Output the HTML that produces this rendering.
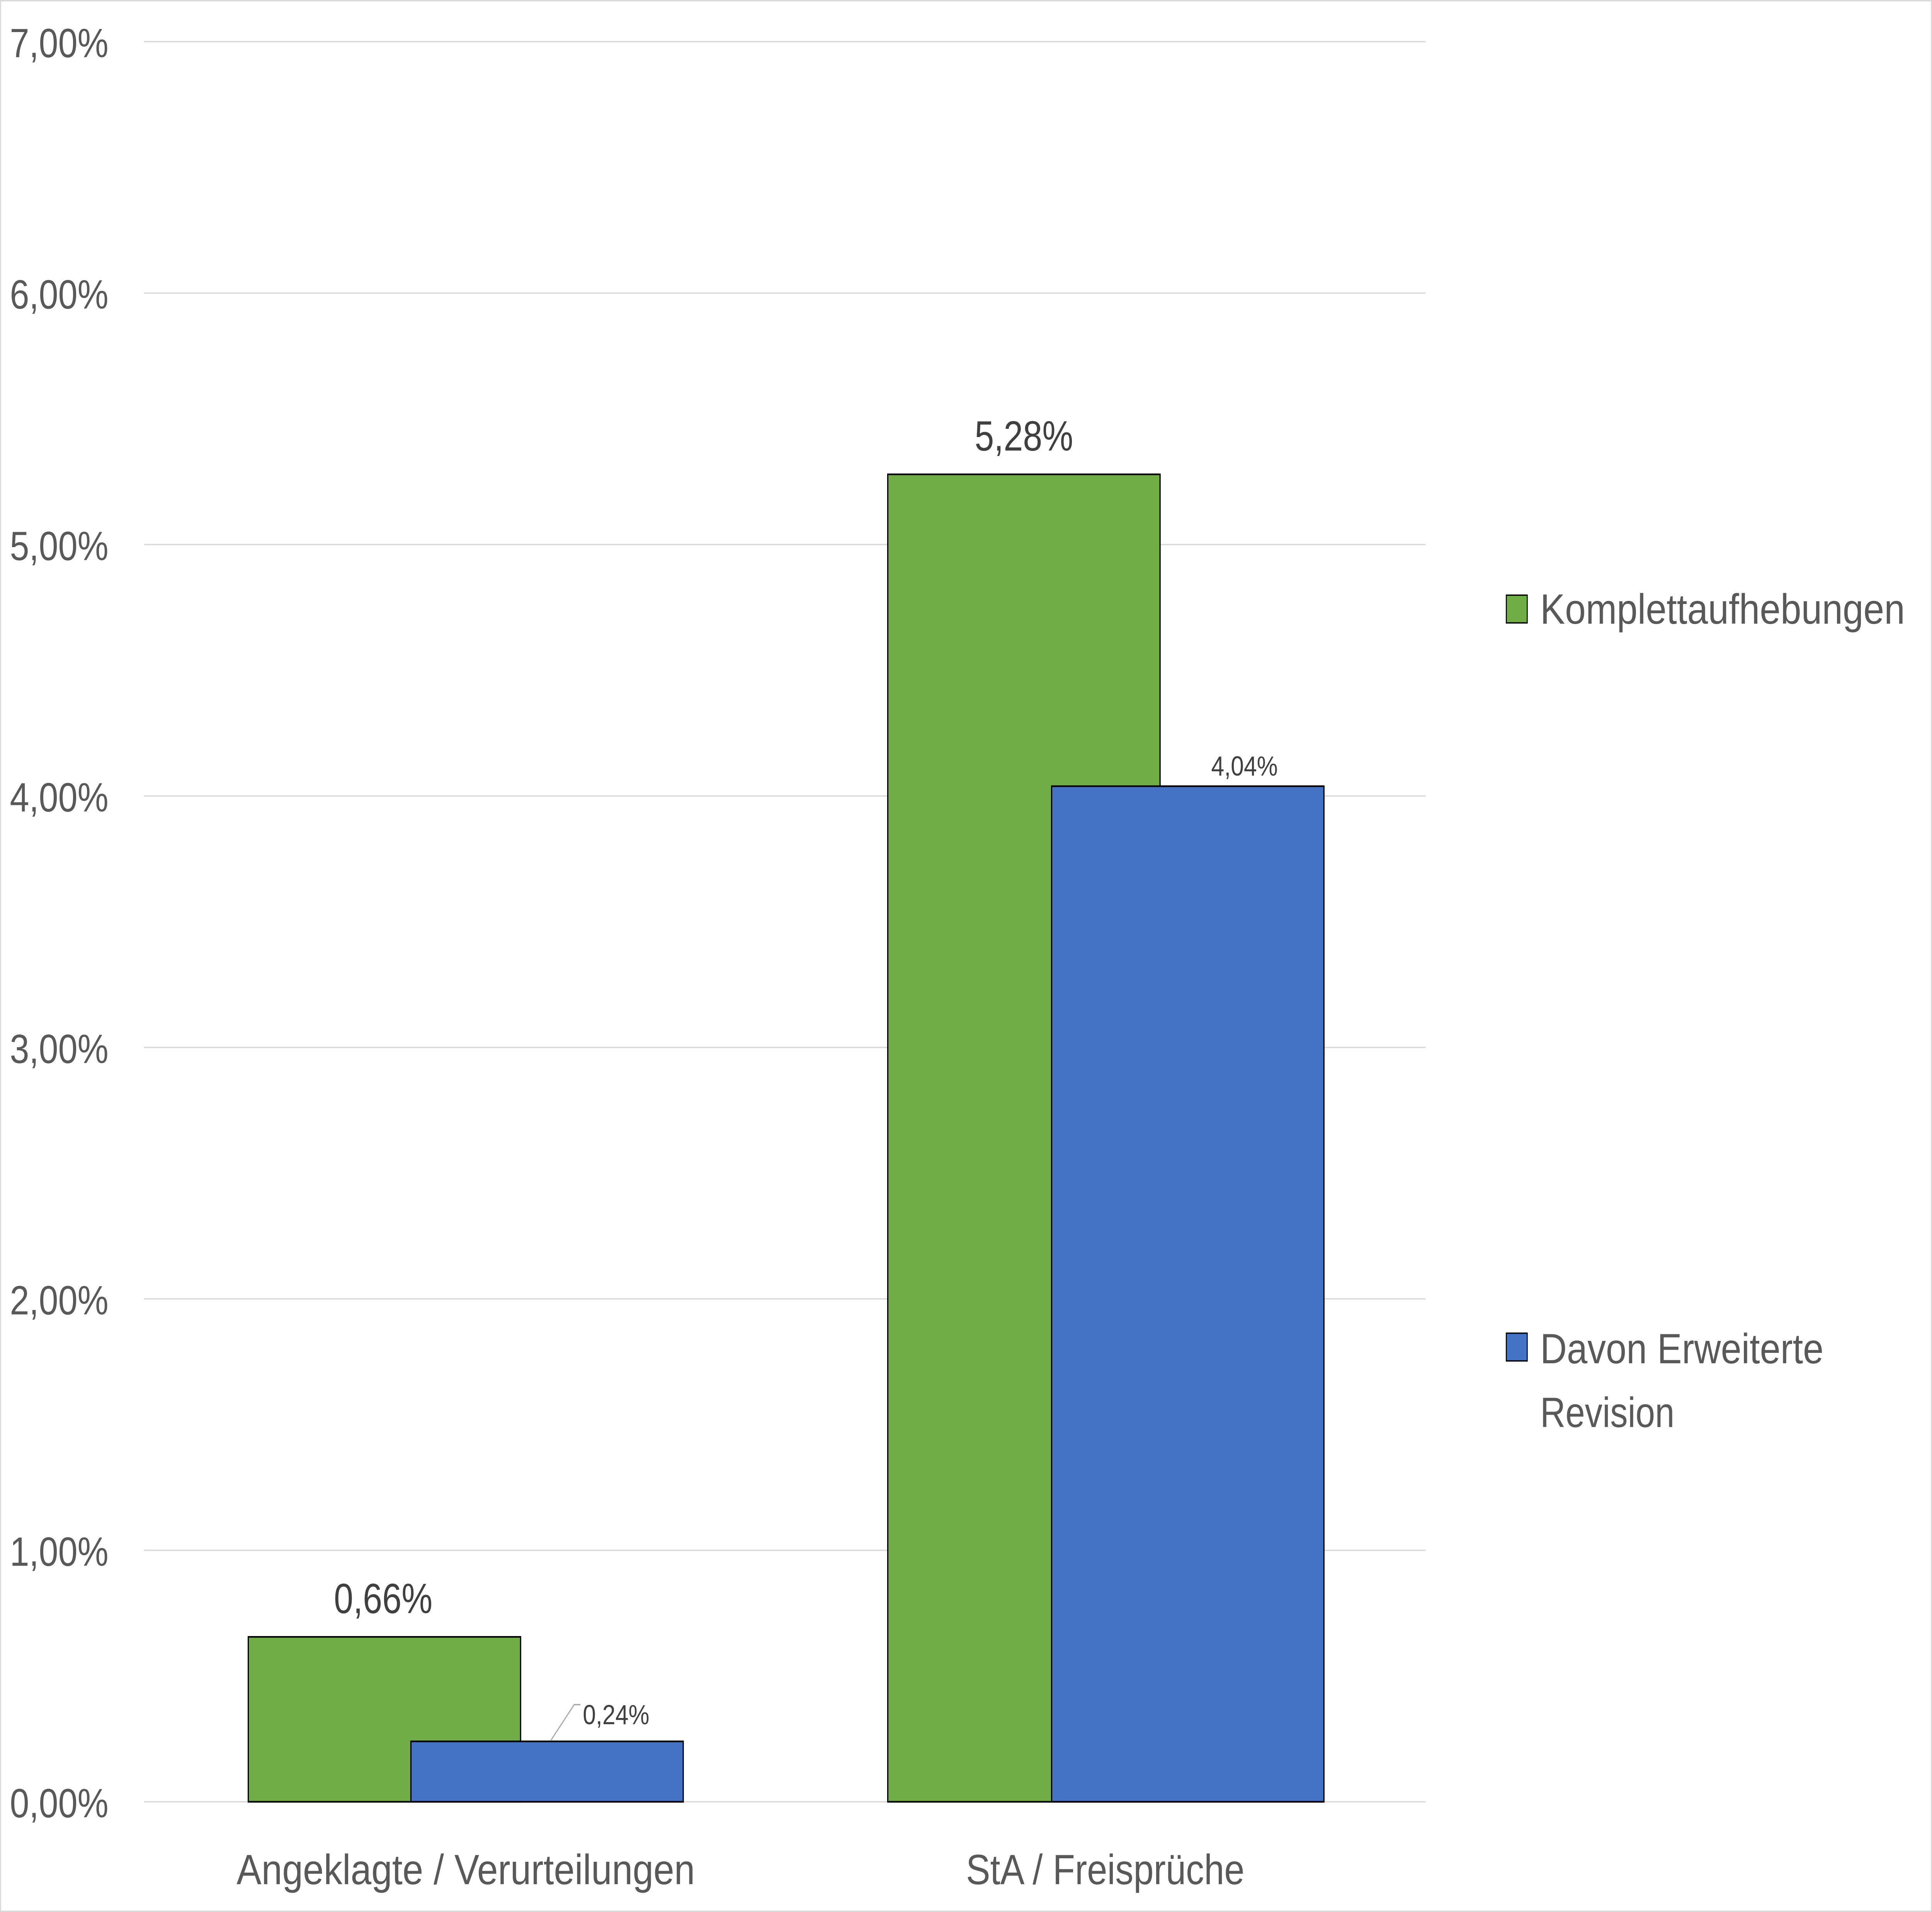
<!DOCTYPE html>
<html><head><meta charset="utf-8"><style>
html,body{margin:0;padding:0;background:#fff;overflow:hidden;width:100%;height:100%;}
svg{display:block;position:absolute;left:0;top:0;width:100vw;height:100vh;}
text{font-family:"Liberation Sans",sans-serif;}
</style></head><body>
<svg viewBox="0 0 1568 1171" preserveAspectRatio="none" xmlns="http://www.w3.org/2000/svg">
<rect x="0.4" y="0.4" width="1567.2" height="1170.2" fill="#fff" stroke="#d9d9d9" stroke-width="0.9"/>
<g stroke="#d9d9d9" stroke-width="0.8">
<line x1="117" y1="25.5" x2="1157" y2="25.5"/>
<line x1="117" y1="179.5" x2="1157" y2="179.5"/>
<line x1="117" y1="333.5" x2="1157" y2="333.5"/>
<line x1="117" y1="487.5" x2="1157" y2="487.5"/>
<line x1="117" y1="641.5" x2="1157" y2="641.5"/>
<line x1="117" y1="795.5" x2="1157" y2="795.5"/>
<line x1="117" y1="949.5" x2="1157" y2="949.5"/>
<line x1="117" y1="1103.5" x2="1157" y2="1103.5"/>
</g>
<g fill="#595959" font-size="25" text-anchor="end">
<text x="88" y="35" textLength="80" lengthAdjust="spacingAndGlyphs">7,00%</text>
<text x="88" y="189" textLength="80" lengthAdjust="spacingAndGlyphs">6,00%</text>
<text x="88" y="343" textLength="80" lengthAdjust="spacingAndGlyphs">5,00%</text>
<text x="88" y="497" textLength="80" lengthAdjust="spacingAndGlyphs">4,00%</text>
<text x="88" y="651" textLength="80" lengthAdjust="spacingAndGlyphs">3,00%</text>
<text x="88" y="805" textLength="80" lengthAdjust="spacingAndGlyphs">2,00%</text>
<text x="88" y="959" textLength="80" lengthAdjust="spacingAndGlyphs">1,00%</text>
<text x="88" y="1113" textLength="80" lengthAdjust="spacingAndGlyphs">0,00%</text>
</g>
<g stroke="#000" stroke-width="1">
<rect x="201.5" y="1002.5" width="221" height="101" fill="#70ad47"/>
<rect x="333.5" y="1066.5" width="221" height="37" fill="#4472c4"/>
<rect x="720.5" y="290.5" width="221" height="813" fill="#70ad47"/>
<rect x="853.5" y="481.5" width="221" height="622" fill="#4472c4"/>
</g>
<polyline points="447,1066 466,1044 471,1044" fill="none" stroke="#a6a6a6" stroke-width="0.8"/>
<g fill="#404040" text-anchor="middle">
<text x="311" y="988" font-size="26" textLength="80" lengthAdjust="spacingAndGlyphs">0,66%</text>
<text x="500" y="1056" font-size="17" textLength="54" lengthAdjust="spacingAndGlyphs">0,24%</text>
<text x="831" y="276" font-size="26" textLength="80" lengthAdjust="spacingAndGlyphs">5,28%</text>
<text x="1010" y="475" font-size="17" textLength="54" lengthAdjust="spacingAndGlyphs">4,04%</text>
</g>
<g fill="#595959" font-size="26" text-anchor="middle">
<text x="378" y="1154" textLength="372" lengthAdjust="spacingAndGlyphs">Angeklagte / Verurteilungen</text>
<text x="897" y="1154" textLength="226" lengthAdjust="spacingAndGlyphs">StA / Freisprüche</text>
</g>
<rect x="1222.5" y="364.5" width="17" height="17" fill="#70ad47" stroke="#000" stroke-width="0.8"/>
<rect x="1222.5" y="816.5" width="17" height="17" fill="#4472c4" stroke="#000" stroke-width="0.8"/>
<g fill="#595959" font-size="26">
<text x="1250" y="382" textLength="296" lengthAdjust="spacingAndGlyphs">Komplettaufhebungen</text>
<text x="1250" y="835" textLength="230" lengthAdjust="spacingAndGlyphs">Davon Erweiterte</text>
<text x="1250" y="874" textLength="109" lengthAdjust="spacingAndGlyphs">Revision</text>
</g>
</svg>
</body></html>
